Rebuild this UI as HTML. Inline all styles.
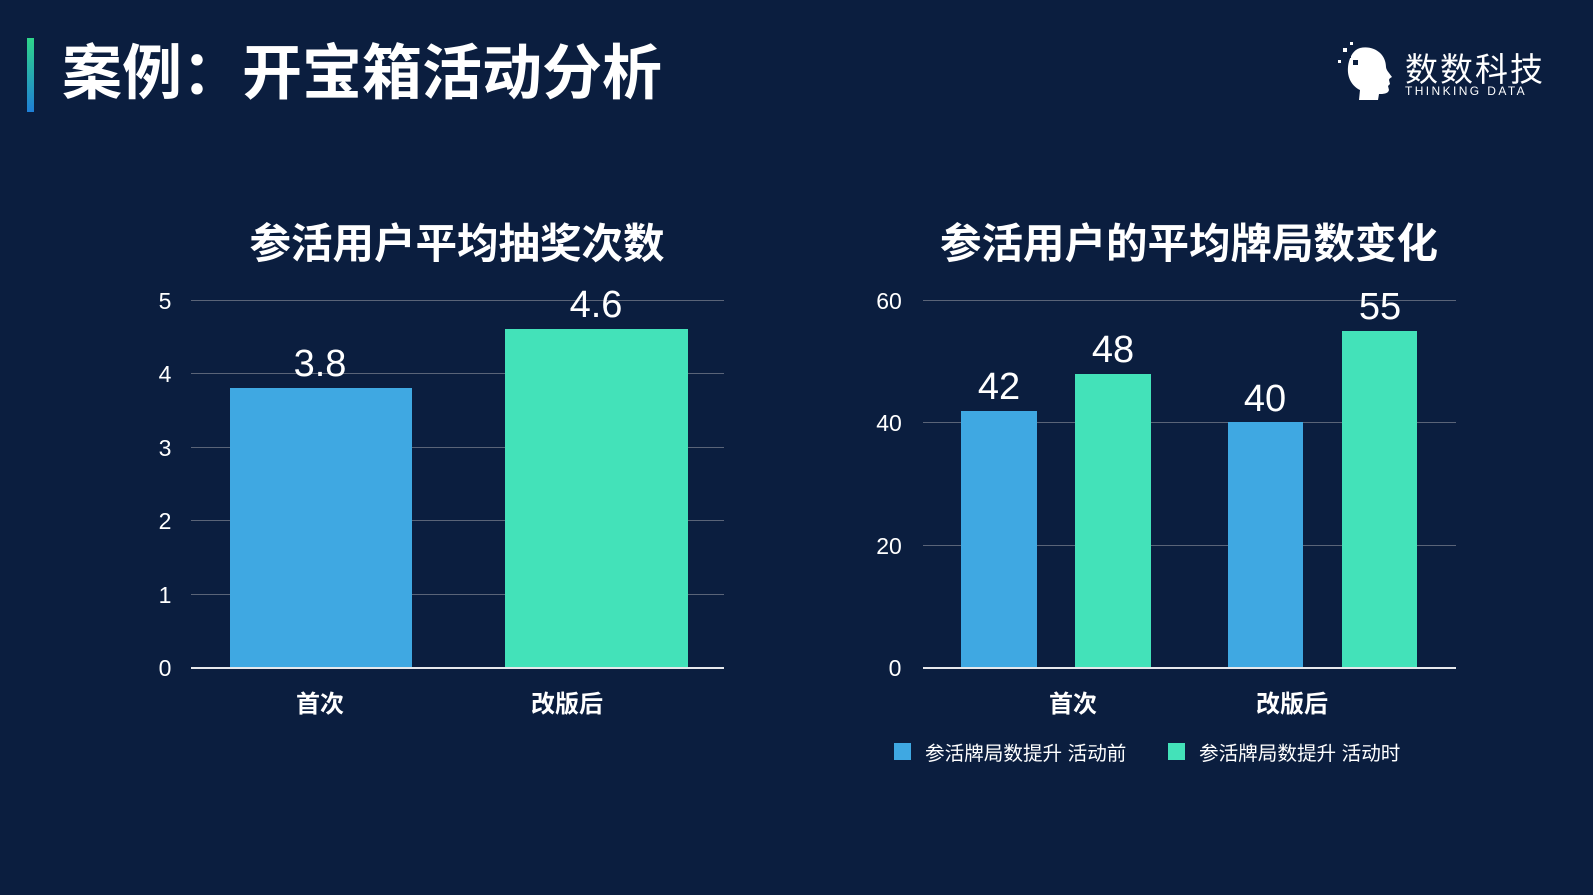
<!DOCTYPE html>
<html><head><meta charset="utf-8"><style>
body{margin:0;width:1593px;height:895px;background:#0b1e3f;overflow:hidden;position:relative;font-family:"Liberation Sans","Noto Sans CJK SC",sans-serif;color:#fff}
.a{position:absolute;white-space:nowrap}
.g{position:absolute;height:1px;background:#5a6478}
.t{position:absolute;font-size:23px;width:40px;text-align:center;color:#fff}
.c{position:absolute;font-size:24px;font-weight:bold;transform:translateX(-50%);white-space:nowrap}
.v{position:absolute;font-size:38px;transform:translateX(-50%);white-space:nowrap}
</style></head><body>
<div class="a" style="left:27px;top:38px;width:7px;height:74px;background:linear-gradient(#2ed58a,#1f7fd6)"></div>
<div class="a" style="left:62px;top:37px;font-size:60px;font-weight:bold;line-height:74px">案例：开宝箱活动分析</div>
<svg class="a" style="left:1338px;top:40px" width="60" height="62" viewBox="0 0 60 62"><path d="M22 8c14-3 26 6 26 19 0 3 4 7 6 10-2 1-3 2-3 3l1 4-2 2 1 4c-1 4-6 4-10 4l-1 6H21l1-10C14 46 9 38 10 27 11 18 15 10 22 8z" fill="#fff"/><rect x="0" y="20" width="3" height="3" fill="#fff"/><rect x="8" y="13" width="5" height="5" fill="#0b1e3f"/><rect x="5" y="8" width="4" height="4" fill="#fff"/><rect x="12" y="2" width="3" height="3" fill="#fff"/><rect x="15" y="20" width="5" height="5" fill="#0b1e3f"/></svg>
<div class="a" style="left:1405px;top:43px;font-size:33px;letter-spacing:2px">数数科技</div>
<div class="a" style="left:1405px;top:84px;font-size:12px;letter-spacing:2.4px">THINKING DATA</div>

<div class="c" style="left:457px;top:210px;font-size:41.5px">参活用户平均抽奖次数</div>
<div class="c" style="left:1189px;top:210px;font-size:41.5px">参活用户的平均牌局数变化</div>

<!-- left chart -->
<div class="g" style="left:191px;width:533px;top:300px"></div>
<div class="g" style="left:191px;width:533px;top:373px"></div>
<div class="g" style="left:191px;width:533px;top:447px"></div>
<div class="g" style="left:191px;width:533px;top:520px"></div>
<div class="g" style="left:191px;width:533px;top:594px"></div>
<div class="a" style="left:230px;width:182px;top:388px;height:279px;background:#3fa8e2"></div>
<div class="a" style="left:505px;width:183px;top:329px;height:338px;background:#43e2b9"></div>
<div class="g" style="left:191px;width:533px;top:667px;height:2px;background:#e6e8ec"></div>
<div class="t" style="left:145px;top:288px">5</div>
<div class="t" style="left:145px;top:361px">4</div>
<div class="t" style="left:145px;top:435px">3</div>
<div class="t" style="left:145px;top:508px">2</div>
<div class="t" style="left:145px;top:582px">1</div>
<div class="t" style="left:145px;top:655px">0</div>
<div class="v" style="left:320px;top:343px">3.8</div>
<div class="v" style="left:596px;top:284px">4.6</div>
<div class="c" style="left:320px;top:684px">首次</div>
<div class="c" style="left:567px;top:684px">改版后</div>

<!-- right chart -->
<div class="g" style="left:923px;width:533px;top:300px"></div>
<div class="g" style="left:923px;width:533px;top:422px"></div>
<div class="g" style="left:923px;width:533px;top:545px"></div>
<div class="a" style="left:961px;width:76px;top:411px;height:256px;background:#3fa8e2"></div>
<div class="a" style="left:1075px;width:76px;top:374px;height:293px;background:#43e2b9"></div>
<div class="a" style="left:1228px;width:75px;top:422px;height:245px;background:#3fa8e2"></div>
<div class="a" style="left:1342px;width:75px;top:331px;height:336px;background:#43e2b9"></div>
<div class="g" style="left:923px;width:533px;top:667px;height:2px;background:#e6e8ec"></div>
<div class="t" style="left:869px;top:288px">60</div>
<div class="t" style="left:869px;top:410px">40</div>
<div class="t" style="left:869px;top:533px">20</div>
<div class="t" style="left:875px;top:655px">0</div>
<div class="v" style="left:999px;top:366px">42</div>
<div class="v" style="left:1113px;top:329px">48</div>
<div class="v" style="left:1265px;top:378px">40</div>
<div class="v" style="left:1380px;top:286px">55</div>
<div class="c" style="left:1073px;top:684px">首次</div>
<div class="c" style="left:1292px;top:684px">改版后</div>
<div class="a" style="left:894px;top:743px;width:17px;height:17px;background:#3fa8e2"></div>
<div class="a" style="left:925px;top:737px;font-size:19.6px">参活牌局数提升 活动前</div>
<div class="a" style="left:1168px;top:743px;width:17px;height:17px;background:#43e2b9"></div>
<div class="a" style="left:1199px;top:737px;font-size:19.6px">参活牌局数提升 活动时</div>
</body></html>
